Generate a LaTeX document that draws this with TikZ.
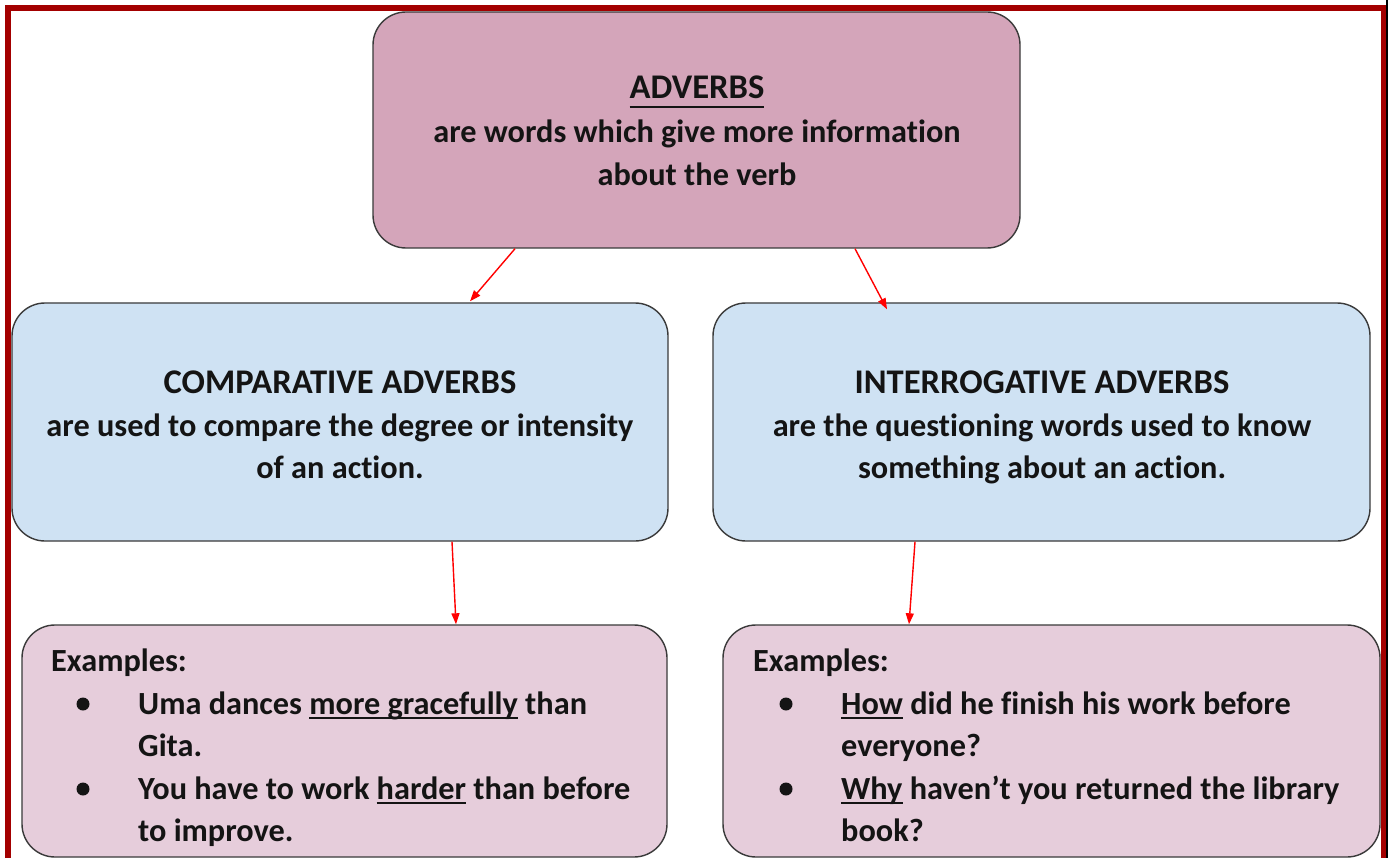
\documentclass[tikz,border=0pt]{standalone}
\usepackage{fontspec}
\setmainfont{Carlito}[RawFeature={-liga}]
\usetikzlibrary{arrows.meta,calc}
\definecolor{frameRed}{HTML}{A30000}
\definecolor{topFill}{HTML}{D4A5BA}
\definecolor{blueFill}{HTML}{CFE2F3}
\definecolor{pinkFill}{HTML}{E6CDDB}
\definecolor{edgeGray}{HTML}{3A3A3A}
\definecolor{txt}{HTML}{141414}
\newcommand\myul[2][-5pt]{\setbox0\hbox{#2}\rlap{\rule[#1]{\wd0}{2pt}}\box0\relax}
\tikzset{
  box/.style={draw=edgeGray,line width=1.4pt,rounded corners=33pt,inner sep=0pt},
  line/.style={anchor=base,inner sep=0pt,font=\fontsize{32.3}{43}\selectfont\bfseries,text=txt},
  capline/.style={line,font=\fontsize{34.6}{43}\selectfont\bfseries},
  lline/.style={anchor=base west,inner sep=0pt,font=\fontsize{32.3}{43}\selectfont\bfseries,text=txt},
  dot/.style={circle,fill=txt,inner sep=0pt,minimum size=13pt},
  arr/.style={draw=red,line width=1.4pt,-{Triangle[length=11pt,width=8pt]}}
}
\begin{document}
\begin{tikzpicture}[x=1pt,y=-1pt]
\useasboundingbox (0,0) rectangle (1388,858);
\clip (0,0) rectangle (1388,858);
\fill[white] (0,0) rectangle (1388,858);
% boxes
\node[box,fill=topFill,minimum width=647pt,minimum height=236pt] (top) at (696.5,130) {};
\node[box,fill=blueFill,minimum width=656pt,minimum height=238pt] (c1) at (340,422) {};
\node[box,fill=blueFill,minimum width=657pt,minimum height=238pt] (c2) at (1041.5,422) {};
\node[box,fill=pinkFill,minimum width=645pt,minimum height=232pt] (e1) at (344.5,741) {};
\node[box,fill=pinkFill,minimum width=657pt,minimum height=232pt] (e2) at (1051.5,741) {};
% top text
\node[capline] (t1) at (697,99) {\myul[-9pt]{ADVERBS}};
\node[line] (t2) at (697,143) {are words which give more information};
\node[line] (t3) at (697,186) {about the verb};
% middle left
\node[capline] (l1) at (340,393) {COMPARATIVE ADVERBS};
\node[line] (l2) at (340,436) {are used to compare the degree or intensity};
\node[line] (l3) at (340,478) {of an action.};
% middle right
\node[capline] (r1) at (1042,393) {INTERROGATIVE ADVERBS};
\node[line] (r2) at (1042,436) {are the questioning words used to know};
\node[line] (r3) at (1042,478) {something about an action.};
% bottom left
\node[lline] (ex1) at (51,671) {Examples:};
\node[dot] (b1) at (83,704) {};
\node[lline] (ea1) at (138,714) {Uma dances \myul{more gracefully} than};
\node[lline] (ea2) at (138,756) {Gita.};
\node[dot] (b2) at (83,789) {};
\node[lline] (ea3) at (138,799) {You have to work \myul{harder} than before};
\node[lline] (ea4) at (138,841) {to improve.};
% bottom right
\node[lline] (ex2) at (753,671) {Examples:};
\node[dot] (b3) at (786,704) {};
\node[lline] (eb1) at (841,714) {\myul{How} did he finish his work before};
\node[lline] (eb2) at (841,756) {everyone?};
\node[dot] (b4) at (786,789) {};
\node[lline] (eb3) at (841,799) {\myul{Why} haven’t you returned the library};
\node[lline] (eb4) at (841,841) {book?};
% arrows
\draw[arr] ([xshift=-181.5pt]top.south) -- ([xshift=130pt,yshift=1pt]c1.north);
\draw[arr] ([xshift=158.5pt]top.south) -- ([xshift=-154.5pt,yshift=-7pt]c2.north);
\draw[arr] ([xshift=112pt]c1.south) -- ([xshift=111.5pt]e1.north);
\draw[arr] ([xshift=-126.5pt]c2.south) -- ([xshift=-142.5pt]e2.north);
% frame
\draw[frameRed,line width=6pt] (8,8) rectangle (1383.5,900);
\draw[black,line width=2pt] (1387,0) -- (1387,858);
\end{tikzpicture}
\end{document}
